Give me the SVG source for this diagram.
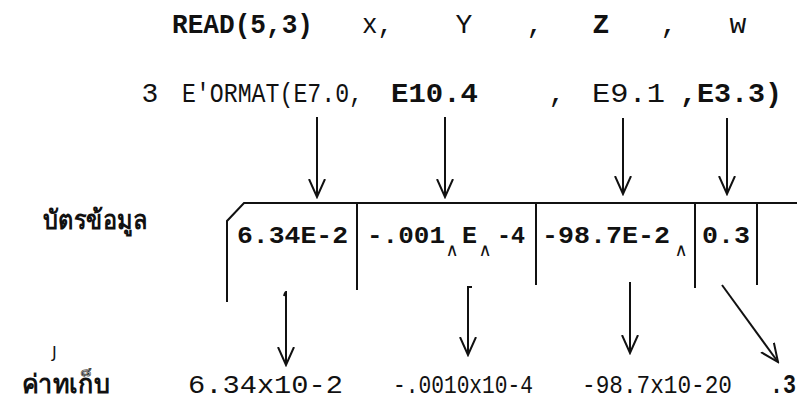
<svg xmlns="http://www.w3.org/2000/svg" width="797" height="398" viewBox="0 0 797 398">
  <style>
    .m { font-family: "Liberation Mono", "DejaVu Sans Mono", monospace; font-size: 28px; fill: #111; }
    .mb { font-family: "Liberation Mono", "DejaVu Sans Mono", monospace; font-size: 28px; font-weight: bold; fill: #111; }
    .cell { font-family: "Liberation Mono", "DejaVu Sans Mono", monospace; font-size: 24px; font-weight: bold; fill: #111; }
    .val { font-family: "Liberation Mono", "DejaVu Sans Mono", monospace; font-size: 26px; fill: #111; }
    .wedge { font-family: "DejaVu Sans", sans-serif; font-size: 18px; fill: #111; }
    .thai { font-family: "Noto Sans", "DejaVu Sans", sans-serif; font-size: 26px; font-weight: bold; fill: #111; }
    .small { font-family: "DejaVu Sans", sans-serif; font-size: 16px; fill: #111; }
    .ln { stroke: #111; stroke-width: 2; fill: none; }
  </style>
  <defs>
    <marker id="head" viewBox="0 0 20 20" refX="18" refY="10" markerWidth="20" markerHeight="20" markerUnits="userSpaceOnUse" orient="auto">
      <path d="M0,2 L18,10 L0,18" fill="none" stroke="#111" stroke-width="2"/>
    </marker>
  </defs>

  <!-- READ statement -->
  <g id="read-stmt">
    <text class="mb" x="172" y="33" textLength="141" lengthAdjust="spacingAndGlyphs">READ(5,3)</text>
    <text class="m" x="362" y="33" textLength="31" lengthAdjust="spacingAndGlyphs">x,</text>
    <text class="m" x="464" y="33" text-anchor="middle">Y</text>
    <text class="m" x="535" y="33" text-anchor="middle">,</text>
    <text class="mb" x="601" y="33" text-anchor="middle">Z</text>
    <text class="m" x="669" y="33" text-anchor="middle">,</text>
    <text class="m" x="738" y="33" text-anchor="middle">w</text>
  </g>

  <!-- FORMAT statement -->
  <g id="format-stmt">
    <text class="m" x="150" y="102" text-anchor="middle">3</text>
    <text class="m" x="182" y="102" font-size="26" textLength="181" lengthAdjust="spacingAndGlyphs">E'ORMAT(E7.0,</text>
    <text class="mb" x="391" y="102" textLength="87" lengthAdjust="spacingAndGlyphs">E10.4</text>
    <text class="m" x="557" y="102" text-anchor="middle">,</text>
    <text class="m" x="592" y="102" textLength="73" lengthAdjust="spacingAndGlyphs">E9.1</text>
    <text class="mb" x="680" y="102" textLength="102" lengthAdjust="spacingAndGlyphs">,E3.3)</text>
  </g>

  <!-- row labels -->
  <g id="label-card">
    <text class="thai" x="43" y="229" textLength="104" lengthAdjust="spacingAndGlyphs">บัตรข้อมูล</text>
  </g>
  <g id="label-stored">
    <text class="small" x="52" y="358">J</text>
    <text class="thai" x="22" y="393" textLength="88" lengthAdjust="spacingAndGlyphs">ค่าทเก็บ</text>
  </g>

  <!-- data card with its fields -->
  <g id="card">
    <path class="ln" d="M227,302 L227,221 L244,203 L797,203"/>
    <path class="ln" d="M357,203 V290 M536,203 V285 M695,203 V288 M757,203 V285"/>
    <text class="cell" x="237" y="243" textLength="111" lengthAdjust="spacingAndGlyphs">6.34E-2</text>
    <text class="cell" x="367" y="243" textLength="78" lengthAdjust="spacingAndGlyphs">-.001</text>
    <text class="wedge" x="452" y="256" text-anchor="middle">∧</text>
    <text class="cell" x="462" y="243" textLength="15" lengthAdjust="spacingAndGlyphs">E</text>
    <text class="wedge" x="485" y="256" text-anchor="middle">∧</text>
    <text class="cell" x="497" y="243" textLength="28" lengthAdjust="spacingAndGlyphs">-4</text>
    <text class="cell" x="542" y="243" textLength="128" lengthAdjust="spacingAndGlyphs">-98.7E-2</text>
    <text class="wedge" x="681" y="256" text-anchor="middle">∧</text>
    <text class="cell" x="702" y="243" textLength="48" lengthAdjust="spacingAndGlyphs">0.3</text>
  </g>

  <!-- stored values -->
  <g id="stored-values">
    <text class="val" x="188" y="393" textLength="155" lengthAdjust="spacingAndGlyphs">6.34x10-2</text>
    <text class="val" x="393" y="393" textLength="140" lengthAdjust="spacingAndGlyphs">-.0010x10-4</text>
    <text class="val" x="582" y="393" textLength="150" lengthAdjust="spacingAndGlyphs">-98.7x10-20</text>
    <text class="mb" x="770" y="393" textLength="26" lengthAdjust="spacingAndGlyphs">.3</text>
  </g>

  <!-- connectors -->
  <g id="connectors">
    <path class="ln" d="M317,117 V197" marker-end="url(#head)"/>
    <path class="ln" d="M445,117 V197" marker-end="url(#head)"/>
    <path class="ln" d="M623,118 V194" marker-end="url(#head)"/>
    <path class="ln" d="M727,118 V194" marker-end="url(#head)"/>
    <path class="ln" d="M284,296 Q285,292 286,292 V365" marker-end="url(#head)"/>
    <path class="ln" d="M472,287 H468 V355" marker-end="url(#head)"/>
    <path class="ln" d="M630,282 V353" marker-end="url(#head)"/>
    <path class="ln" d="M722,285 L778,362" marker-end="url(#head)"/>
  </g>
</svg>
